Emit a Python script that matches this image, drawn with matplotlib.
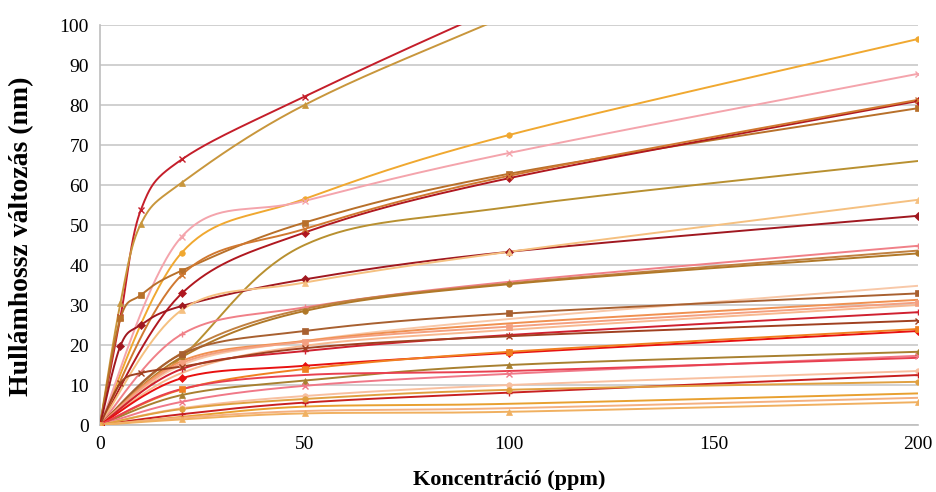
import numpy as np
import matplotlib
matplotlib.use("Agg")
import matplotlib.pyplot as plt

x_ppm = [0, 5, 10, 20, 50, 100, 200]
N = None

s01 = [0, 27.0, 53.8, 66.4, 82.1, 105.5, 150.0]
s02 = [0, 30.5, 50.3, 60.6, 80.0, 102.5, 145.0]
s03 = [0, N, N, 43.1, 56.5, 72.5, 96.5]
s04 = [0, N, N, 47.1, 56.0, 68.0, 87.8]
s05 = [0, 26.7, 32.5, 38.6, 50.6, 62.8, 79.2]
s06 = [0, N, N, 32.9, 48.1, 61.7, 81.0]
s07 = [0, N, N, 37.5, 49.0, 62.3, 81.3]
s08 = [0, N, N, 17.0, 45.0, 54.5, 66.0]
s09 = [0, 19.8, 25.0, 29.75, 36.4, 43.3, 52.3]
s10 = [0, N, N, 28.75, 35.6, 43.3, 56.3]
s11 = [0, N, N, 22.7, 29.4, 35.8, 44.8]
s12 = [0, N, N, 18.0, 29.0, 35.4, 43.6]
s13 = [0, N, N, 17.0, 28.5, 35.2, 42.9]
s14 = [0, N, N, 15.0, 21.0, 26.5, 34.8]
s15 = [0, N, N, 17.75, 23.5, 27.9, 32.9]
s16 = [0, N, N, 16.0, 21.0, 25.4, 31.3]
s17 = [0, N, N, 15.5, 20.8, 24.6, 30.6]
s18 = [0, N, N, 13.0, 19.8, 23.8, 30.0]
s19 = [0, N, N, 14.0, 18.5, 22.5, 28.2]
s20 = [0, 10.5, 13.0, 14.6, 19.2, 22.2, 26.1]
s21 = [0, N, N, 11.7, 14.8, 18.0, 23.5]
s22 = [0, N, N, 8.9, 14.0, 18.3, 24.0]
s23 = [0, N, N, 7.5, 11.1, 15.0, 18.3]
s24 = [0, N, N, 5.8, 9.8, 12.8, 17.3]
s25 = [0, N, N, 9.0, 12.5, 13.5, 16.8]
s26 = [0, N, N, 4.2, 7.25, 10.0, 13.5]
s27 = [0, N, N, 2.7, 5.6, 8.1, 12.5]
s28 = [0, N, N, 4.0, 6.5, 8.8, 10.8]
s29 = [0, N, N, 2.0, 4.6, 5.3, 7.9]
s30 = [0, N, N, 1.8, 3.5, 4.2, 6.8]
s31 = [0, N, N, 1.4, 2.9, 3.3, 5.7]

series = [s01, s02, s03, s04, s05, s06, s07, s08, s09, s10, s11, s12, s13, s14, s15,
          s16, s17, s18, s19, s20, s21, s22, s23, s24, s25, s26, s27, s28, s29, s30, s31]
colors = ['#C41E2A', '#C8963C', '#F0A830', '#F4A4AC', '#B8702A', '#B01820', '#D07830',
          '#B89030', '#A01820', '#F5C080', '#F08088', '#C08040', '#B07828', '#F8C8A8',
          '#A86030', '#F09050', '#F4A080', '#F8B890', '#D02030', '#A04020', '#E81010',
          '#F08020', '#A88030', '#F07888', '#E84050', '#F8C0A0', '#C82020', '#E0A040',
          '#E8A030', '#F4B080', '#F0B060']
markers = ['x', '^', 'o', 'x', 's', 'D', 'x', None, 'D', '^', '+', None, 'o', None,
           's', None, 's', None, '+', 'x', 'D', 's', '^', 'x', None, 'o', '+', 'o',
           None, None, '^']

x_labels = ['0', '50', '100', '150', '200']
y_labels = ['0', '10', '20', '30', '40', '50', '60', '70', '80', '90', '100']
x_title = 'Koncentráció (ppm)'
y_title = 'Hullámhossz változás (nm)'


def smooth(xs, ys, n=40):
    p = np.column_stack([np.asarray(xs, float), np.asarray(ys, float)])
    m = len(p)
    out = [p[0]]
    t = np.linspace(0, 1, n)[1:]
    for i in range(m - 1):
        p0 = p[i - 1] if i > 0 else p[i]
        p1 = p[i]
        p2 = p[i + 1]
        p3 = p[i + 2] if i + 2 < m else p[i + 1]
        c1 = p1 + (p2 - p0) / 6.0
        c2 = p2 - (p3 - p1) / 6.0
        seg = ((1 - t) ** 3)[:, None] * p1 + (3 * (1 - t) ** 2 * t)[:, None] * c1 \
            + (3 * (1 - t) * t ** 2)[:, None] * c2 + (t ** 3)[:, None] * p2
        out.extend(seg)
    out = np.array(out)
    return out[:, 0], out[:, 1]


fig = plt.figure(figsize=(9.36, 4.92), dpi=100)
ax = fig.add_axes([100 / 936, 1 - 425 / 492, 818 / 936, 400 / 492])

for ys, c, mk in zip(series, colors, markers):
    px = [xv for xv, yv in zip(x_ppm, ys) if yv is not None]
    py = [yv for yv in ys if yv is not None]
    sx, sy = smooth(px, py)
    ax.plot(sx, sy, color=c, lw=1.4, solid_capstyle='round', zorder=3)
    if mk is not None:
        ax.plot(px, py, linestyle='none', marker=mk, color=c, markersize=4,
                markeredgewidth=1.0 if mk in ('x', '+') else 0.5, zorder=4)

ax.set_xlim(0, 200)
ax.set_ylim(0, 100)
ax.set_xticks([0, 50, 100, 150, 200])
ax.set_xticklabels(x_labels)
ax.set_yticks(np.arange(0, 101, 10))
ax.set_yticklabels(y_labels)
ax.tick_params(length=0, labelsize=14, pad=8)
for lab in ax.get_xticklabels() + ax.get_yticklabels():
    lab.set_family('Liberation Serif')
ax.grid(axis='y', color='#C8C8C8', lw=1.2, zorder=0)
ax.set_axisbelow(True)
for s in ('top', 'right'):
    ax.spines[s].set_visible(False)
for s in ('left', 'bottom'):
    ax.spines[s].set_color('#BEBEBE')
    ax.spines[s].set_linewidth(1.2)

ax.set_xlabel(x_title, family='Liberation Serif', fontweight='bold', fontsize=16)
ax.set_ylabel(y_title, family='Liberation Serif', fontweight='bold', fontsize=20)
ax.xaxis.set_label_coords((509.5 - 100) / 818, (425 - 480) / 400)
ax.xaxis.label.set_va('center')
ax.yaxis.set_label_coords((22 - 100) / 818, (425 - 236) / 400)
ax.yaxis.label.set_va('center')

fig.savefig('out.png', dpi=100)
